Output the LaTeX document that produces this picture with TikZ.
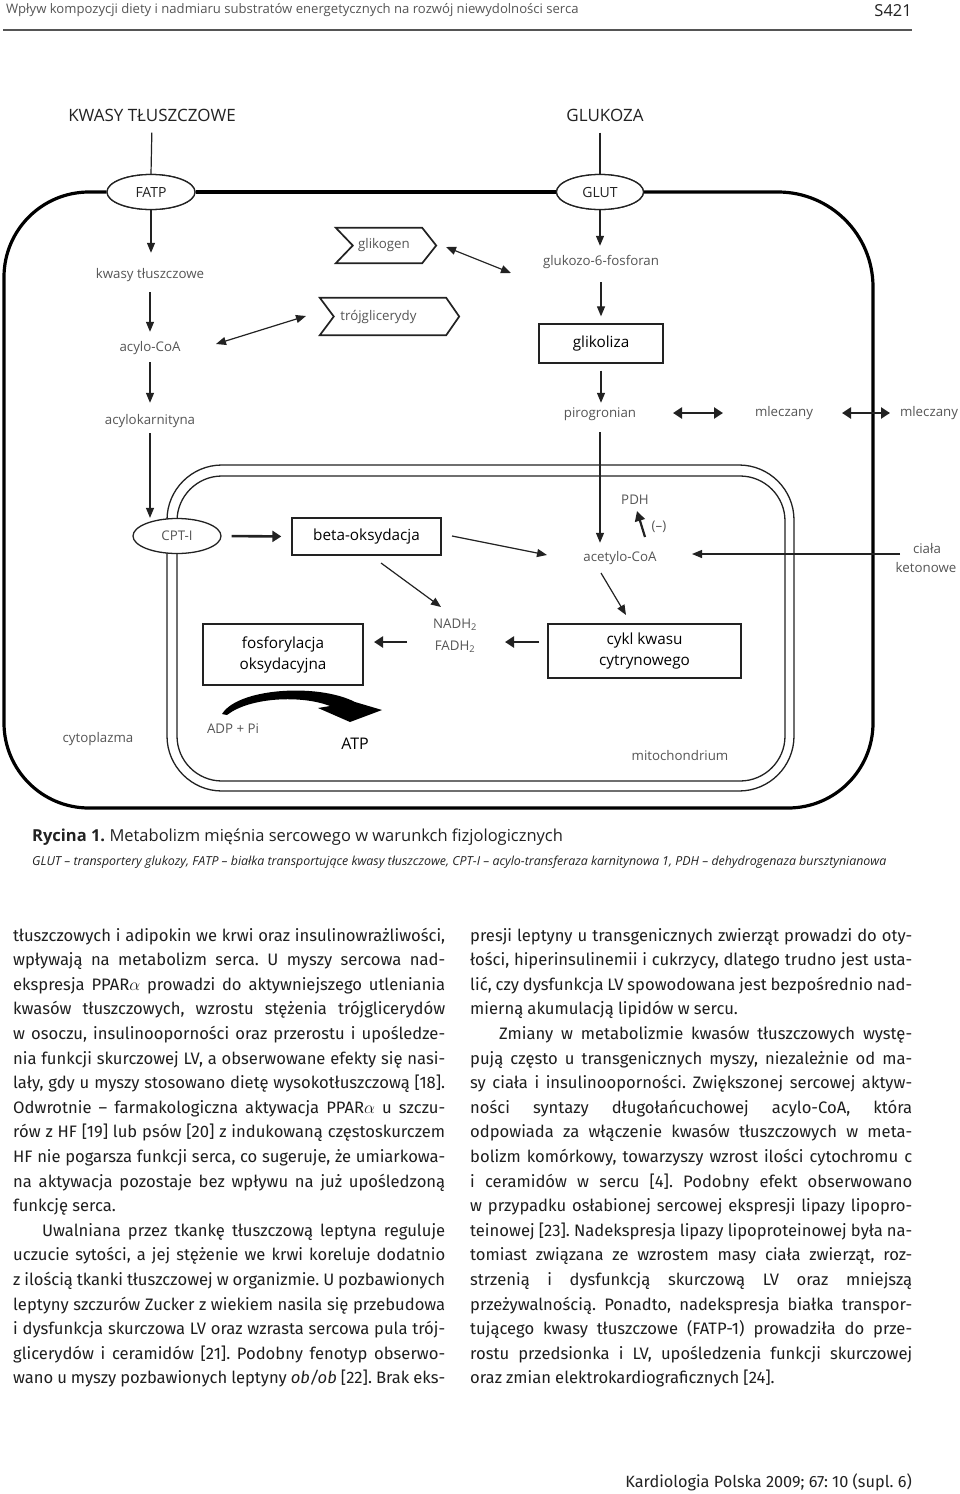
\documentclass[tikz,border=0pt]{standalone}
\usepackage{fontspec}
\setmainfont{Fira Sans}
\newfontfamily\dfont{Open Sans}
\usetikzlibrary{shapes.geometric,arrows.meta}
\definecolor{ink}{HTML}{222222}
\definecolor{lbl}{HTML}{555555}
\definecolor{bodyc}{HTML}{1E1E1E}
\frenchspacing
\tikzset{
  lab/.style={font=\dfont\fontsize{13.3}{15}\selectfont, text=lbl, inner sep=0pt, text height=10pt, text depth=3pt},
  biglab/.style={font=\dfont\fontsize{17}{19}\selectfont, text=ink, inner sep=0pt, text height=12pt, text depth=3pt},
  mlab/.style={font=\dfont\fontsize{13.3}{22}\selectfont, text=lbl, inner sep=0pt, align=center},
  boxn/.style={draw=ink, line width=1.3pt, font=\dfont\fontsize{15.3}{21}\selectfont, text=black, align=center, inner sep=0pt},
  oval/.style={ellipse, draw=ink, line width=1.3pt, fill=white, font=\dfont\fontsize{14}{15}\selectfont, text=ink, inner sep=0pt, minimum width=88pt, minimum height=35pt},
  chevn/.style={font=\dfont\fontsize{13.3}{15}\selectfont, text=lbl, inner sep=0pt},
  chevline/.style={draw=ink, line width=1.7pt, line join=miter},
  ln/.style={draw=ink, line width=1.2pt},
  arr/.style={draw=ink, line width=1.2pt, -{Triangle[length=10pt,width=8pt]}},
  darr/.style={draw=ink, line width=1.2pt, {Triangle[length=10pt,width=8pt]}-{Triangle[length=10pt,width=8pt]}},
  tarr/.style={draw=ink, line width=2.6pt, -{Triangle[length=9pt,width=11pt]}},
  tdarr/.style={draw=ink, line width=2.6pt, {Triangle[length=9pt,width=11pt]}-{Triangle[length=9pt,width=11pt]}},
  memb/.style={draw=ink, line width=1.3pt},
  cellw/.style={draw=black, line width=3.2pt},
  bodyline/.style={anchor=base west, inner sep=0pt, text=bodyc, font=\fontsize{16.6}{18}\selectfont,
    execute at begin node={\frenchspacing\spaceskip=0.25em plus 1em minus 0.1em}},
}
\begin{document}
\begin{tikzpicture}[x=1pt,y=-1pt]
\path[use as bounding box, fill=white] (0,0) rectangle (960,1494);

% ---------- header ----------
\node[anchor=west, inner sep=0pt, font=\dfont\fontsize{13.1}{14}\selectfont, text=lbl] (hdr) at (6,10)
  {Wpływ kompozycji diety i nadmiaru substratów energetycznych na rozwój niewydolności serca};
\node[anchor=east, inner sep=0pt, font=\dfont\fontsize{16.5}{18}\selectfont, text=ink] (pg) at (912,11) {S421};
\coordinate (rl) at (3,30);
\coordinate (rr) at (912,30);
\draw[draw=lbl, line width=1.4pt] (rl) -- (rr);

% ---------- membranes ----------
\node[oval] (fatp) at (151,192) {FATP};
\node[oval, minimum width=87pt] (glut) at (600,192) {GLUT};
\draw[cellw, rounded corners=85pt] (fatp.west) -- (4,192) -- (4,808) -- (873,808)
  [rounded corners=95pt] -- (873,192) -- (glut.east);
\draw[cellw] (fatp.east) -- (glut.west);
\draw[memb, rounded corners=55pt] (167,465) rectangle (794,791);
\draw[memb, rounded corners=45pt] (177,476) rectangle (785,781);
\node[oval] (fatp2) at (151,192) {FATP};
\node[oval, minimum width=87pt] (glut2) at (600,192) {GLUT};

% ---------- labels ----------
\node[biglab] (kw) at (152,117) {KWASY TŁUSZCZOWE};
\node[biglab] (gk) at (605,117) {GLUKOZA};
\node[lab] (kt) at (150,275) {kwasy tłuszczowe};
\node[lab] (aco) at (150,348) {acylo-CoA};
\node[lab] (akarn) at (150,421) {acylokarnityna};
\node[lab] (g6p) at (601,262) {glukozo-6-fosforan};
\node[boxn, minimum width=124pt, minimum height=39pt] (gbox) at (601,343.5) {glikoliza};
\node[lab] (pir) at (600,414) {pirogronian};
\node[lab] (ml1) at (784,413) {mleczany};
\node[lab] (ml2) at (929,413) {mleczany};
\node[lab] (pdh) at (635,501) {PDH};
\node[lab] (minus) at (659,527) {(–)};
\node[lab] (aco2) at (620,558) {acetylo-CoA};
\node[lab] (ciala) at (927,550) {ciała};
\node[lab] (keton) at (926,569) {ketonowe};
\node[boxn, minimum width=149pt, minimum height=37pt] (beta) at (366.5,536.5) {beta-oksydacja};
\node[mlab] (nadh) at (455,636) {NADH\textsubscript{2}\\FADH\textsubscript{2}};
\node[boxn, minimum width=160pt, minimum height=61pt] (fosf) at (283,654.5) {fosforylacja\\oksydacyjna};
\node[boxn, minimum width=193pt, minimum height=54pt] (cykl) at (644.5,651) {cykl kwasu\\cytrynowego};
\node[lab] (adp) at (233,730) {ADP + Pi};
\node[biglab, font=\dfont\fontsize{16}{18}\selectfont, text=black] (atp) at (355,745) {ATP};
\node[lab] (cyto) at (98,739) {cytoplazma};
\node[lab] (mitoch) at (680,757) {mitochondrium};

% chevrons
\node[chevn, minimum width=100pt, minimum height=35pt] (glik) at (386,245.5) {\hspace*{-4pt}glikogen};
\draw[chevline] (glik.north west) -- ([xshift=-14pt]glik.north east) -- (glik.east)
  -- ([xshift=-14pt]glik.south east) -- (glik.south west) -- ([xshift=17pt]glik.west) -- cycle;
\node[chevn, minimum width=139pt, minimum height=37pt] (troj) at (389.5,316.5) {\hspace*{-22pt}trójglicerydy};
\draw[chevline] (troj.north west) -- ([xshift=-13pt]troj.north east) -- (troj.east)
  -- ([xshift=-13pt]troj.south east) -- (troj.south west) -- ([xshift=14pt]troj.west) -- cycle;

% CPT-I on the mitochondrial membrane
\node[oval, font=\dfont\fontsize{13.3}{15}\selectfont, text=lbl] (cpt) at (177,536) {CPT-I};

% ---------- connectors ----------
\draw[ln, shorten <=8pt] (kw.south) -- (fatp.north);
\draw[ln, shorten <=8pt] (glut.north |- gk.south) -- (glut.north);
\draw[arr, shorten >=15.5pt] (fatp.south) -- (fatp.south |- kt.north);
\draw[arr, shorten <=10.5pt, shorten >=9.5pt] (kt.south) -- (aco.north);
\draw[arr, shorten <=7.5pt, shorten >=11.5pt] (aco.south) -- (akarn.north);
\draw[arr, shorten <=5.5pt] (akarn.south) -- (akarn.south |- cpt.north);
\draw[tarr, shorten <=10pt, shorten >=10pt] (cpt.east) -- (beta.west);
\draw[darr] ([xshift=60pt,yshift=-1.5pt]glik.center) -- ([xshift=-90pt,yshift=-11pt]g6p.center);
\draw[arr, shorten >=9.5pt] (glut.south) -- (glut.south |- g6p.north);
\draw[arr, shorten <=13.5pt, shorten >=7pt] (g6p.south) -- (g6p.south |- gbox.north);
\draw[arr, shorten <=7pt, shorten >=4.5pt] (gbox.south) -- (gbox.south |- pir.north);
\draw[darr] ([xshift=66pt,yshift=4pt]aco.center) -- ([xshift=-83.5pt,yshift=0.5pt]troj.center);
\draw[tdarr] ([xshift=73pt,yshift=1pt]pir.center) -- ([xshift=-61pt]ml1.center);
\draw[tdarr] ([xshift=58pt]ml1.center) -- ([xshift=-39pt]ml2.center);
\draw[arr, shorten <=11.5pt, shorten >=8.5pt] (pir.south) -- (pir.south |- aco2.north);
\draw[draw=ink, line width=2.2pt, -{Triangle[length=10pt,width=10pt]}] ([xshift=25pt,yshift=21pt]aco2.center) -- ([xshift=2pt,yshift=-10pt]pdh.center);
\draw[arr] ([xshift=-27pt,yshift=-4pt]ciala.center) -- ([xshift=72pt,yshift=4pt]aco2.center);
\draw[arr] ([xshift=85.5pt,yshift=0.5pt]beta.center) -- ([xshift=-73pt,yshift=3pt]aco2.center);
\draw[arr] ([xshift=14.5pt,yshift=-26.5pt]beta.center) -- ([xshift=-14pt,yshift=29pt]nadh.center);
\draw[arr] ([xshift=-19pt,yshift=-15pt]aco2.center) -- ([xshift=-18.5pt,yshift=36pt]cykl.center);
\draw[tarr] ([xshift=-105.5pt,yshift=9pt]cykl.center) -- ([xshift=50pt,yshift=-6pt]nadh.center);
\draw[tarr] ([xshift=-48pt,yshift=-6pt]nadh.center) -- ([xshift=91pt,yshift=12.5pt]fosf.center);

% ATP curved arrow
\fill[black] (222,714) .. controls (238,688) and (318,683) .. (355,702) -- (382,710) -- (350,722)
  -- (318,708) -- (330,706) .. controls (302,695) and (250,697) .. (227,715) -- cycle;

% ---------- caption ----------
\node[anchor=west, inner sep=0pt, font=\dfont\fontsize{16.5}{18}\selectfont, text=ink] (cap) at (32,837)
  {\textbf{Rycina 1.} Metabolizm mięśnia sercowego w warunkch fizjologicznych};
\node[anchor=west, inner sep=0pt, font=\dfont\itshape\fontsize{12.4}{13}\selectfont, text=ink] (cap2) at (32,862)
  {GLUT – transportery glukozy, FATP – białka transportujące kwasy tłuszczowe, CPT-I – acylo-transferaza karnitynowa 1, PDH – dehydrogenaza bursztynianowa};

% ---------- body text ----------
\foreach \t [count=\i] in {
{tłuszczowych i adipokin we krwi oraz insulinowrażliwości,},
{wpływają na metabolizm serca. U myszy sercowa nad-},
{ekspresja PPAR$\alpha$ prowadzi do aktywniejszego utleniania},
{kwasów tłuszczowych, wzrostu stężenia trójglicerydów},
{w osoczu, insulinooporności oraz przerostu i upośledze-},
{nia funkcji skurczowej LV, a obserwowane efekty się nasi-},
{lały, gdy u myszy stosowano dietę wysokotłuszczową [18].},
{Odwrotnie – farmakologiczna aktywacja PPAR$\alpha$ u szczu-},
{rów z HF [19] lub psów [20] z indukowaną częstoskurczem},
{HF nie pogarsza funkcji serca, co sugeruje, że umiarkowa-},
{na aktywacja pozostaje bez wpływu na już upośledzoną},
{funkcję serca.\hfill},
{\hspace*{29pt}Uwalniana przez tkankę tłuszczową leptyna reguluje},
{uczucie sytości, a jej stężenie we krwi koreluje dodatnio},
{z ilością tkanki tłuszczowej w organizmie. U pozbawionych},
{leptyny szczurów Zucker z wiekiem nasila się przebudowa},
{i dysfunkcja skurczowa LV oraz wzrasta sercowa pula trój-},
{glicerydów i ceramidów [21]. Podobny fenotyp obserwo-},
{wano u myszy pozbawionych leptyny \textit{ob/ob} [22]. Brak eks-}}
{\node[bodyline] (ca\i) at (13,{941+24.6*(\i-1)}) {\makebox[432pt][s]{\t}};}

\foreach \t [count=\i] in {
{presji leptyny u transgenicznych zwierząt prowadzi do oty-},
{łości, hiperinsulinemii i cukrzycy, dlatego trudno jest usta-},
{lić, czy dysfunkcja LV spowodowana jest bezpośrednio nad-},
{mierną akumulacją lipidów w sercu.\hfill},
{\hspace*{29pt}Zmiany w metabolizmie kwasów tłuszczowych wystę-},
{pują często u transgenicznych myszy, niezależnie od ma-},
{sy ciała i insulinooporności. Zwiększonej sercowej aktyw-},
{ności syntazy długołańcuchowej acylo-CoA, która},
{odpowiada za włączenie kwasów tłuszczowych w meta-},
{bolizm komórkowy, towarzyszy wzrost ilości cytochromu c},
{i ceramidów w sercu [4]. Podobny efekt obserwowano},
{w przypadku osłabionej sercowej ekspresji lipazy lipopro-},
{teinowej [23]. Nadekspresja lipazy lipoproteinowej była na-},
{tomiast związana ze wzrostem masy ciała zwierząt, roz-},
{strzenią i dysfunkcją skurczową LV oraz mniejszą},
{przeżywalnością. Ponadto, nadekspresja białka transpor-},
{tującego kwasy tłuszczowe (FATP-1) prowadziła do prze-},
{rostu przedsionka i LV, upośledzenia funkcji skurczowej},
{oraz zmian elektrokardiograficznych [24].\hfill}}
{\node[bodyline] (cb\i) at (470,{941+24.6*(\i-1)}) {\makebox[442pt][s]{\t}};}

% ---------- footer ----------
\node[anchor=base east, inner sep=0pt, font=\fontsize{16.3}{18}\selectfont, text=ink] (foot) at (912,1487)
  {Kardiologia Polska 2009; 67: 10 (supl. 6)};
\end{tikzpicture}
\end{document}
